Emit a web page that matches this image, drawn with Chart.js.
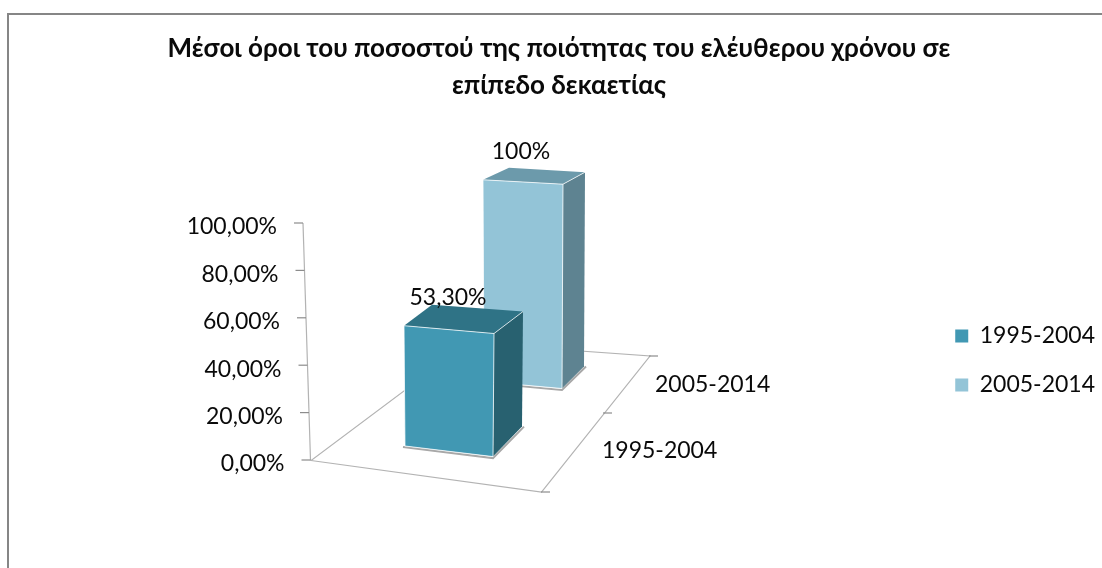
<!DOCTYPE html>
<html>
<head>
<meta charset="utf-8">
<title>Μέσοι όροι</title>
<script src="https://cdn.jsdelivr.net/npm/chart.js@4"></script>
<style>
  html, body { margin: 0; padding: 0; background: #fff; overflow: hidden; }
  canvas { display: block; }
</style>
</head>
<body>
<canvas id="chart" width="1102" height="568"></canvas>
<script>
const categories = ['1995-2004', '2005-2014'];
const valuesFront = [53.3];
const valuesBack = [100];
const dataLabels = ['53,30%', '100%'];
const yTicks = [0, 20, 40, 60, 80, 100];
const titleLines = [
    'Μέσοι όροι του ποσοστού της ποιότητας του ελέυθερου χρόνου σε',
    'επίπεδο δεκαετίας'
];

const FONT = 'Lato, "Noto Sans", sans-serif';
const TEXT = '#0a0a0a';
const LINE = '#b3b3b3';

// 3D look of each bar: how the faces are skewed and how deep the box goes
const boxStyles = [
    { front: '#4198B3', top: '#2F7386', side: '#286170', skewTop: 3.9, skewBase: 5.3, inset: 1,
      depthTopL: [28, -21], depthTopR: [29, -22], depthBase: [29, -30], labelDy: -32, labelDx: -1 },
    { front: '#93C4D7', top: '#6C9AAB', side: '#5E8391', skewTop: 2.2, skewBase: 3.5, inset: 1,
      depthTopL: [26, -12], depthTopR: [22, -12], depthBase: [22, -22], labelDy: -30, labelDx: -2 }
];

// value -> pixel anchors of the hidden scales (perspective makes each depth row different)
const pins = {
    x: [0, 449, 1, 523],
    y: [0, 460, 100, 223],
    yFront: [0, 451.3, 100, 223],
    yBack: [0, 385, 100, 182]
};

function poly(ctx, pts, fill, stroke, lw) {
    ctx.beginPath();
    pts.forEach((p, i) => i ? ctx.lineTo(p[0], p[1]) : ctx.moveTo(p[0], p[1]));
    ctx.closePath();
    if (fill) { ctx.fillStyle = fill; ctx.fill(); }
    if (stroke) { ctx.strokeStyle = stroke; ctx.lineWidth = lw || 1; ctx.stroke(); }
}

function seg(ctx, x1, y1, x2, y2, color, lw) {
    ctx.beginPath();
    ctx.moveTo(x1, y1);
    ctx.lineTo(x2, y2);
    ctx.strokeStyle = color;
    ctx.lineWidth = lw || 1;
    ctx.stroke();
}

const box3d = {
    id: 'box3d',
    // Chart.js cannot do 3D, so fit the hidden scales onto the perspective here
    afterLayout(chart) {
        Object.keys(pins).forEach(id => {
            const s = chart.scales[id];
            const [v0, p0, v1, p1] = pins[id];
            const perPx = (v1 - v0) / (p1 - p0);
            if (s.isHorizontal()) {
                s.min = v0 + (s.left - p0) * perPx;
                s.max = v0 + (s.right - p0) * perPx;
            } else {
                s.min = v0 + (s.bottom - p0) * perPx;
                s.max = v0 + (s.top - p0) * perPx;
            }
            s.configure();
        });
    },
    beforeDraw(chart) {
        const ctx = chart.ctx;
        ctx.save();
        seg(ctx, 8, 14, 8, 568, '#868686', 2);
        seg(ctx, 7, 14, 1102, 14, '#868686', 2);
        ctx.restore();
    },
    beforeDatasetsDraw(chart) {
        const ctx = chart.ctx;
        const y = chart.scales.y;
        const axisX = py => 310.5 - (y.getPixelForValue(0) - py) / 237 * 7.5;
        ctx.save();
        // floor
        poly(ctx, [[311, 460.5], [541.5, 492], [650, 356], [468, 343]], null, LINE, 1.2);
        seg(ctx, 541, 492, 550, 492, '#8c8c8c', 1.2);
        seg(ctx, 603, 413, 612, 413, '#8c8c8c', 1.2);
        seg(ctx, 649, 356, 658, 356, '#8c8c8c', 1.2);
        // value axis
        seg(ctx, axisX(y.getPixelForValue(100)), y.getPixelForValue(100), axisX(y.getPixelForValue(0)), y.getPixelForValue(0), LINE, 1.2);
        ctx.font = '23px ' + FONT;
        ctx.fillStyle = TEXT;
        ctx.textAlign = 'right';
        ctx.textBaseline = 'middle';
        y.ticks.forEach(t => {
            const py = y.getPixelForValue(t.value);
            const px = axisX(py);
            seg(ctx, px - 9, py, px, py, '#8c8c8c', 1.2);
            ctx.fillText(t.label, px - 26, py + 4);
        });
        // category labels next to the floor
        ctx.textAlign = 'left';
        ctx.fillText(categories[0], 602, 451);
        ctx.fillText(categories[1], 655, 385);
        ctx.restore();
    },
    // draw the box instead of the flat rectangle
    beforeDatasetDraw(chart, args) {
        const ctx = chart.ctx;
        const st = boxStyles[args.index];
        args.meta.data.forEach(bar => {
            const half = bar.width / 2;
            const tl = [bar.x - half, bar.y - st.skewTop];
            const tr = [bar.x + half, bar.y + st.skewTop];
            const br = [bar.x + half - st.inset, bar.base + st.skewBase];
            const bl = [bar.x - half + st.inset, bar.base - st.skewBase];
            const btl = [tl[0] + st.depthTopL[0], tl[1] + st.depthTopL[1]];
            const btr = [tr[0] + st.depthTopR[0], tr[1] + st.depthTopR[1]];
            const bbr = [br[0] + st.depthBase[0], br[1] + st.depthBase[1]];
            ctx.save();
            // soft shadow on the floor
            ctx.beginPath();
            ctx.moveTo(bl[0] - 2, bl[1] + 1);
            ctx.lineTo(br[0], br[1] + 1.5);
            ctx.lineTo(bbr[0] + 2, bbr[1]);
            ctx.strokeStyle = '#a8a8a8';
            ctx.lineWidth = 2;
            ctx.stroke();
            poly(ctx, [tr, btr, bbr, br], st.side);
            poly(ctx, [tl, btl, btr, tr], st.top);
            poly(ctx, [tl, tr, br, bl], st.front);
            // light edges
            ctx.beginPath();
            ctx.moveTo(bl[0], bl[1]);
            ctx.lineTo(tl[0], tl[1]);
            ctx.lineTo(tr[0], tr[1]);
            ctx.lineTo(br[0], br[1]);
            ctx.lineTo(bl[0], bl[1]);
            ctx.moveTo(tr[0], tr[1]);
            ctx.lineTo(btr[0], btr[1]);
            ctx.strokeStyle = 'rgba(255,255,255,0.75)';
            ctx.lineWidth = 1;
            ctx.stroke();
            ctx.restore();
        });
        return false;
    },
    afterDatasetsDraw(chart) {
        const ctx = chart.ctx;
        ctx.save();
        ctx.font = '23px ' + FONT;
        ctx.fillStyle = TEXT;
        ctx.textAlign = 'center';
        ctx.textBaseline = 'middle';
        chart.data.datasets.forEach((ds, i) => {
            const bar = chart.getDatasetMeta(i).data[0];
            ctx.fillText(dataLabels[i], bar.x + boxStyles[i].labelDx, bar.y + boxStyles[i].labelDy);
        });
        ctx.restore();
    }
};

new Chart(document.getElementById('chart'), {
    type: 'bar',
    data: {
        datasets: [
            {
                label: categories[0],
                data: valuesFront.map(v => ({ x: 0, y: v })),
                yAxisID: 'yFront',
                backgroundColor: boxStyles[0].front,
                barThickness: 90
            },
            {
                label: categories[1],
                data: valuesBack.map(v => ({ x: 1, y: v })),
                yAxisID: 'yBack',
                backgroundColor: boxStyles[1].front,
                barThickness: 80
            }
        ]
    },
    options: {
        responsive: false,
        animation: false,
        layout: { padding: { left: 13, right: -3, top: 14, bottom: 0 } },
        scales: {
            x: { type: 'linear', display: false, offset: false },
            y: {
                display: false,
                afterBuildTicks: s => { s.ticks = yTicks.map(v => ({ value: v })); },
                ticks: { autoSkip: false, callback: v => v.toFixed(2).replace('.', ',') + '%' }
            },
            yFront: { display: false },
            yBack: { display: false }
        },
        datasets: { bar: { grouped: false } },
        plugins: {
            title: {
                display: true,
                text: titleLines,
                color: TEXT,
                font: { family: FONT, size: 26, weight: 'bold', lineHeight: 1.42 },
                padding: { top: 16, bottom: 49 }
            },
            legend: {
                position: 'right',
                fullSize: false,
                labels: {
                    color: TEXT,
                    font: { family: FONT, size: 23 },
                    boxWidth: 13,
                    boxHeight: 13,
                    padding: 26
                }
            },
            tooltip: { enabled: false }
        }
    },
    plugins: [box3d]
});
</script>
</body>
</html>
